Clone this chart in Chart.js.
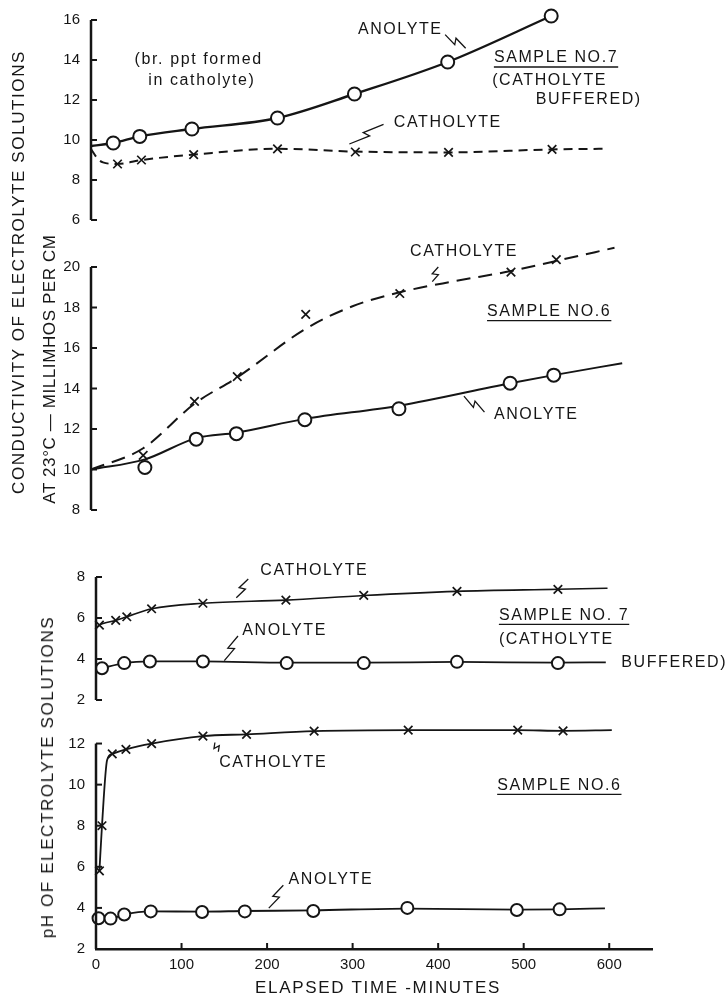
<!DOCTYPE html>
<html>
<head>
<meta charset="utf-8">
<script src="https://cdn.jsdelivr.net/npm/chart.js@4.4.1/dist/chart.umd.min.js"></script>
<style>
  body { margin: 0; background: #fff; }
  #wrap { position: relative; width: 727px; height: 1005px; overflow: hidden; background: #fff; }
  canvas { position: absolute; left: 0; }
  .title { position: absolute; font-family: "Liberation Sans", Arial, sans-serif; font-size: 17px; color: #161616; white-space: nowrap; }
  .ytitle { transform: translate(-50%, -50%) rotate(-90deg); }
  .xtitle { transform: translate(-50%, -50%); }
</style>
</head>
<body>
<div id="wrap">
  <canvas id="p1" width="727" height="240" style="top:0px"></canvas>
  <canvas id="p2" width="727" height="295" style="top:235px"></canvas>
  <canvas id="p3" width="727" height="165" style="top:555px"></canvas>
  <canvas id="p4" width="727" height="302" style="top:703px"></canvas>
  <div class="title ytitle" style="left:19px; top:272px; letter-spacing:1.6px">CONDUCTIVITY OF ELECTROLYTE SOLUTIONS</div>
  <div class="title ytitle" style="left:50px; top:369px; letter-spacing:0.6px">AT 23°C — MILLIMHOS PER CM</div>
  <div class="title ytitle" style="left:48px; top:777px; letter-spacing:1.6px">pH OF ELECTROLYTE SOLUTIONS</div>
  <div class="title xtitle" style="left:378px; top:988px; letter-spacing:1.7px">ELAPSED TIME -MINUTES</div>
</div>
<script>
// x ticks (minutes)
const timeTicks = [0, 100, 200, 300, 400, 500, 600];

// Conductivity, sample no. 7
const cond7AnolyteTime = [26, 57, 118, 218, 308, 417, 538];
const cond7AnolyteValue = [9.85, 10.18, 10.55, 11.1, 12.3, 13.9, 16.2];
const cond7AnolyteLineTime = [0, 26, 57, 118, 218, 308, 417, 538];
const cond7AnolyteLineValue = [9.7, 9.85, 10.18, 10.55, 11.1, 12.3, 13.9, 16.2];
const cond7CatholyteTime = [31, 59, 120, 218, 309, 418, 539];
const cond7CatholyteValue = [8.8, 9.0, 9.27, 9.56, 9.4, 9.38, 9.53];
const cond7CatholyteLineTime = [0, 8, 14, 31, 59, 120, 218, 309, 418, 539, 602];
const cond7CatholyteLineValue = [9.55, 9.05, 8.88, 8.8, 9.0, 9.27, 9.56, 9.42, 9.38, 9.53, 9.56];

// Conductivity, sample no. 6
const cond6AnolyteTime = [63, 123, 170, 250, 360, 490, 541];
const cond6AnolyteValue = [10.1, 11.5, 11.77, 12.46, 13.0, 14.26, 14.66];
const cond6AnolyteLineTime = [0, 63, 123, 170, 250, 360, 490, 541, 621];
const cond6AnolyteLineValue = [10.0, 10.5, 11.55, 11.82, 12.5, 13.15, 14.26, 14.66, 15.25];
const cond6CatholyteTime = [61, 121, 171, 251, 361, 491, 544];
const cond6CatholyteValue = [10.7, 13.36, 14.59, 17.66, 18.69, 19.75, 20.36];
const cond6CatholyteLineTime = [0, 61, 121, 171, 251, 305, 361, 425, 491, 544, 612];
const cond6CatholyteLineValue = [10.0, 11.05, 13.25, 14.55, 16.95, 18.05, 18.75, 19.3, 19.8, 20.3, 20.95];

// pH, sample no. 7
const ph7CatholyteTime = [4, 23, 36, 65, 125, 222, 313, 422, 540];
const ph7CatholyteValue = [5.65, 5.88, 6.06, 6.45, 6.72, 6.87, 7.1, 7.3, 7.4];
const ph7CatholyteLineTime = [0, 4, 23, 36, 65, 125, 222, 313, 422, 540, 598];
const ph7CatholyteLineValue = [5.5, 5.65, 5.88, 6.06, 6.45, 6.72, 6.87, 7.1, 7.3, 7.4, 7.45];
const ph7AnolyteTime = [7, 33, 63, 125, 223, 313, 422, 540];
const ph7AnolyteValue = [3.55, 3.8, 3.88, 3.88, 3.8, 3.8, 3.86, 3.8];
const ph7AnolyteLineTime = [7, 33, 63, 125, 223, 313, 422, 540, 596];
const ph7AnolyteLineValue = [3.55, 3.8, 3.88, 3.88, 3.82, 3.82, 3.86, 3.82, 3.84];

// pH, sample no. 6
const ph6CatholyteTime = [4, 7, 19, 35, 65, 125, 176, 255, 365, 493, 546];
const ph6CatholyteValue = [5.8, 8.0, 11.5, 11.72, 12.0, 12.36, 12.45, 12.6, 12.65, 12.65, 12.62];
const ph6CatholyteLineTime = [4, 7, 13, 19, 35, 65, 125, 176, 255, 365, 493, 546, 603];
const ph6CatholyteLineValue = [5.8, 8.0, 11.2, 11.5, 11.72, 12.0, 12.36, 12.45, 12.6, 12.65, 12.65, 12.62, 12.65];
const ph6AnolyteTime = [3, 17, 33, 64, 124, 174, 254, 364, 492, 542];
const ph6AnolyteValue = [3.5, 3.48, 3.68, 3.83, 3.8, 3.83, 3.85, 4.0, 3.9, 3.93];
const ph6AnolyteLineTime = [3, 17, 33, 64, 124, 174, 254, 364, 492, 542, 595];
const ph6AnolyteLineValue = [3.5, 3.48, 3.68, 3.83, 3.82, 3.85, 3.88, 3.97, 3.92, 3.93, 3.98];

const INK = '#151515';
const FONT = '"Liberation Sans", Arial, sans-serif';

Chart.defaults.font.family = FONT;
Chart.defaults.color = INK;

const pts = (ts, vs) => ts.map((t, i) => ({ x: t, y: vs[i] }));

const circles = (ts, vs, r) => ({
  data: pts(ts, vs), showLine: false, pointStyle: 'circle', pointRadius: r,
  pointBackgroundColor: '#fff', pointBorderColor: INK, pointBorderWidth: 2, clip: false
});
const crosses = (ts, vs) => ({
  data: pts(ts, vs), showLine: false, pointStyle: 'crossRot', pointRadius: 6,
  pointBorderColor: INK, pointBorderWidth: 1.7, clip: false
});
const curve = (ts, vs, w, dash) => ({
  data: pts(ts, vs), showLine: true, pointRadius: 0, borderColor: INK, borderWidth: w,
  borderDash: dash || [], cubicInterpolationMode: 'monotone', fill: false, clip: false
});

// draws the y axis line, inward ticks, text notes and squiggle leaders through the chart's scales
const inkPlugin = {
  id: 'ink',
  afterDraw(chart, args, opts) {
    const ctx = chart.ctx;
    const xs = chart.scales.x, ys = chart.scales.y;
    ctx.save();
    ctx.strokeStyle = INK;
    ctx.lineWidth = 2.5;
    ctx.beginPath();
    ctx.moveTo(ys.right, ys.getPixelForValue(ys.min));
    ctx.lineTo(ys.right, ys.getPixelForValue(opts.axisTop));
    ctx.stroke();
    ctx.lineWidth = 2;
    ys.ticks.forEach(t => {
      const py = ys.getPixelForValue(t.value);
      ctx.beginPath(); ctx.moveTo(ys.right, py); ctx.lineTo(ys.right + 6, py); ctx.stroke();
    });
    if (opts.xTicks) {
      xs.ticks.forEach(t => {
        const px = xs.getPixelForValue(t.value);
        ctx.beginPath(); ctx.moveTo(px, xs.top); ctx.lineTo(px, xs.top - 6); ctx.stroke();
      });
    }
    ctx.lineWidth = 1.3;
    (opts.leaders || []).forEach(l => {
      const x0 = xs.getPixelForValue(l[0]), y0 = ys.getPixelForValue(l[1]);
      const x1 = xs.getPixelForValue(l[2]), y1 = ys.getPixelForValue(l[3]);
      const dx = x1 - x0, dy = y1 - y0, len = Math.hypot(dx, dy);
      const nx = -dy / len * 3, ny = dx / len * 3;
      ctx.beginPath();
      ctx.moveTo(x0, y0);
      ctx.lineTo(x0 + dx * 0.55 + nx, y0 + dy * 0.55 + ny);
      ctx.lineTo(x0 + dx * 0.45 - nx, y0 + dy * 0.45 - ny);
      ctx.lineTo(x1, y1);
      ctx.stroke();
    });
    ctx.font = '16px ' + FONT;
    ctx.letterSpacing = '1.6px';
    ctx.fillStyle = INK;
    ctx.textBaseline = 'middle';
    ctx.textAlign = 'left';
    (opts.notes || []).forEach(n => {
      const px = xs.getPixelForValue(n.t), py = ys.getPixelForValue(n.v);
      ctx.fillText(n.text, px, py);
      if (n.underline) {
        const w = ctx.measureText(n.text).width;
        ctx.beginPath(); ctx.moveTo(px, py + 9); ctx.lineTo(px + w, py + 9); ctx.stroke();
      }
    });
    ctx.restore();
  }
};

// yTop may sit above the drawn axis so that marks above it are still painted
function panel(id, pad, yMin, yMax, yTop, datasets, ink, showX) {
  ink.axisTop = yMax;
  return new Chart(document.getElementById(id), {
    type: 'scatter',
    data: { datasets: datasets },
    options: {
      responsive: false,
      animation: false,
      devicePixelRatio: 1,
      layout: { padding: pad },
      plugins: { legend: { display: false }, tooltip: { enabled: false }, ink: ink },
      scales: {
        x: {
          type: 'linear', min: 0, max: 650, display: showX,
          afterBuildTicks: s => { s.ticks = timeTicks.map(v => ({ value: v })); },
          afterFit: s => { s.height = showX ? 50 : 0; },
          grid: { display: false, drawTicks: false },
          border: { display: true, color: INK, width: 2.5 },
          ticks: { font: { size: 15 }, color: INK, padding: 7, maxRotation: 0, autoSkip: false }
        },
        y: {
          min: yMin, max: yTop,
          afterBuildTicks: s => { s.ticks = s.ticks.filter(t => t.value <= yMax && t.value % 2 === 0); },
          afterFit: s => { s.width = 45; },
          grid: { display: false, drawTicks: false },
          border: { display: false },
          ticks: { stepSize: 2, font: { size: 15 }, color: INK, padding: 11 }
        }
      }
    },
    plugins: [inkPlugin]
  });
}

// Panel 1: conductivity, sample no. 7
panel('p1', { left: 46, right: 80, top: 18, bottom: 17 }, 6, 16, 16, [
  circles(cond7AnolyteTime, cond7AnolyteValue, 6.5),
  crosses(cond7CatholyteTime, cond7CatholyteValue),
  curve(cond7AnolyteLineTime, cond7AnolyteLineValue, 2.4),
  curve(cond7CatholyteLineTime, cond7CatholyteLineValue, 2, [9, 6])
], {
  notes: [
    { text: 'ANOLYTE', t: 312, v: 15.5 },
    { text: '(br. ppt formed', t: 51, v: 14.0 },
    { text: 'in catholyte)', t: 67, v: 12.98 },
    { text: 'SAMPLE NO.7', t: 471, v: 14.1, underline: true },
    { text: '(CATHOLYTE', t: 469, v: 12.98 },
    { text: 'BUFFERED)', t: 520, v: 12.0 },
    { text: 'CATHOLYTE', t: 354, v: 10.88 }
  ],
  leaders: [[414, 15.27, 438, 14.59], [342, 10.78, 302, 9.8]]
}, false);

// Panel 2: conductivity, sample no. 6
panel('p2', { left: 46, right: 80, top: 32, bottom: 19 }, 8, 20, 20, [
  circles(cond6AnolyteTime, cond6AnolyteValue, 6.5),
  crosses(cond6CatholyteTime, cond6CatholyteValue),
  curve(cond6AnolyteLineTime, cond6AnolyteLineValue, 2),
  curve(cond6CatholyteLineTime, cond6CatholyteLineValue, 2, [14, 8])
], {
  notes: [
    { text: 'CATHOLYTE', t: 373, v: 20.74 },
    { text: 'SAMPLE NO.6', t: 463, v: 17.8, underline: true },
    { text: 'ANOLYTE', t: 471, v: 12.72 }
  ],
  leaders: [[406, 20.0, 399, 19.28], [460, 12.83, 436, 13.62]]
}, false);

// Panel 3: pH, sample no. 7
panel('p3', { left: 51, right: 75, top: 22, bottom: 18 }, 2, 8, 8, [
  circles(ph7AnolyteTime, ph7AnolyteValue, 6),
  crosses(ph7CatholyteTime, ph7CatholyteValue),
  curve(ph7AnolyteLineTime, ph7AnolyteLineValue, 1.8),
  curve(ph7CatholyteLineTime, ph7CatholyteLineValue, 1.6)
], {
  notes: [
    { text: 'CATHOLYTE', t: 192, v: 8.29 },
    { text: 'ANOLYTE', t: 171, v: 5.41 },
    { text: 'SAMPLE NO. 7', t: 471, v: 6.13, underline: true },
    { text: '(CATHOLYTE', t: 471, v: 4.93 },
    { text: 'BUFFERED)', t: 614, v: 3.82 }
  ],
  leaders: [[178, 7.9, 164, 6.99], [166, 5.12, 150, 3.92]]
}, false);

// Panel 4: pH, sample no. 6
panel('p4', { left: 51, right: 75, top: 10, bottom: 6 }, 2, 12, 13, [
  circles(ph6AnolyteTime, ph6AnolyteValue, 6),
  crosses(ph6CatholyteTime, ph6CatholyteValue),
  curve(ph6AnolyteLineTime, ph6AnolyteLineValue, 1.8),
  curve(ph6CatholyteLineTime, ph6CatholyteLineValue, 1.8)
], {
  xTicks: true,
  notes: [
    { text: 'CATHOLYTE', t: 144, v: 11.08 },
    { text: 'SAMPLE NO.6', t: 469, v: 9.96, underline: true },
    { text: 'ANOLYTE', t: 225, v: 5.4 }
  ],
  leaders: [[139, 12.05, 143, 11.6], [219, 5.1, 202, 3.99]]
}, true);
</script>
</body>
</html>
